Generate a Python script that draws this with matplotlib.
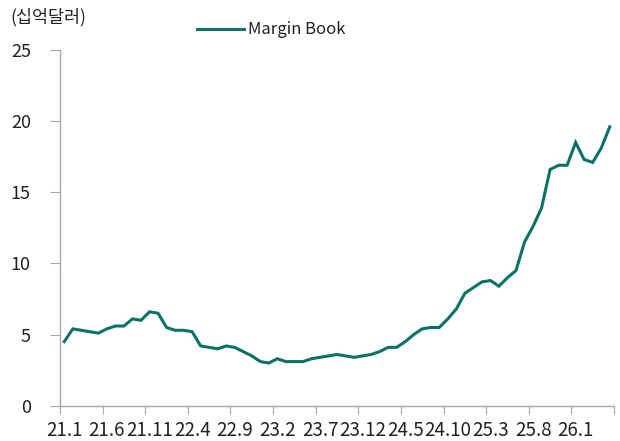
import matplotlib
matplotlib.use("Agg")
import matplotlib.pyplot as plt
import numpy as np

plt.rcParams['font.family'] = ['Noto Sans CJK KR', 'DejaVu Sans']

labels = ["21.1", "21.6", "21.11", "22.4", "22.9", "23.2", "23.7", "23.12",
          "24.5", "24.10", "25.3", "25.8", "26.1"]
values = [4.5, 5.4, 5.3, 5.2, 5.1, 5.4, 5.6, 5.6, 6.1, 6.0,
          6.6, 6.5, 5.5, 5.3, 5.3, 5.2, 4.2, 4.1, 4.0, 4.2,
          4.1, 3.8, 3.5, 3.1, 3.0, 3.3, 3.1, 3.1, 3.1, 3.3,
          3.4, 3.5, 3.6, 3.5, 3.4, 3.5, 3.6, 3.8, 4.1, 4.1,
          4.5, 5.0, 5.4, 5.5, 5.5, 6.1, 6.8, 7.9, 8.3, 8.7,
          8.8, 8.4, 9.0, 9.5, 11.5, 12.6, 13.9, 16.6, 16.9, 16.9,
          18.5, 17.3, 17.1, 18.1, 19.6]

n = len(values)
x = np.arange(n)

fig = plt.figure(figsize=(6.2, 4.41), dpi=100)
ax = fig.add_axes([60/620, 1 - 405.7/441, 554/620, 355.7/441])

line_color = "#0b7268"
ax.plot(x, values, color=line_color, lw=2.2, label="Margin Book",
        solid_joinstyle="miter")

ax.set_xlim(-0.5, n - 0.5)
ax.set_ylim(0, 25)
ax.set_yticks([0, 5, 10, 15, 20, 25])

# major ticks between categories, labels centered on categories
ax.set_xticks(np.arange(-0.5, n, 5))
ax.set_xticklabels([])
ax.set_xticks(np.arange(0, n, 5)[:len(labels)], minor=True)
ax.set_xticklabels(labels, minor=True)
ax.tick_params(axis='x', which='minor', length=0, pad=10, labelsize=13.5, colors="#222222")
ax.tick_params(axis='x', which='major', length=6, color="#a6a6a6", direction='out')
ax.tick_params(axis='y', length=7, color="#a6a6a6", direction='out', labelsize=13,
               labelcolor="#222222", pad=14)

for s in ['top', 'right']:
    ax.spines[s].set_visible(False)
for s in ['left', 'bottom']:
    ax.spines[s].set_color("#a6a6a6")
    ax.spines[s].set_linewidth(1.0)

fig.text(10/620, 1 - 17/441, "(십억달러)", fontsize=12.5, color="#222222",
         va='center', ha='left')

leg = ax.legend(loc='center left', bbox_to_anchor=(197/620, 1 - 30/441),
                bbox_transform=fig.transFigure, frameon=False, fontsize=12,
                handlelength=2.8, handletextpad=0.25, borderaxespad=0,
                borderpad=0)
for t in leg.get_texts():
    t.set_color("#222222")

fig.savefig("out.png", dpi=100)
